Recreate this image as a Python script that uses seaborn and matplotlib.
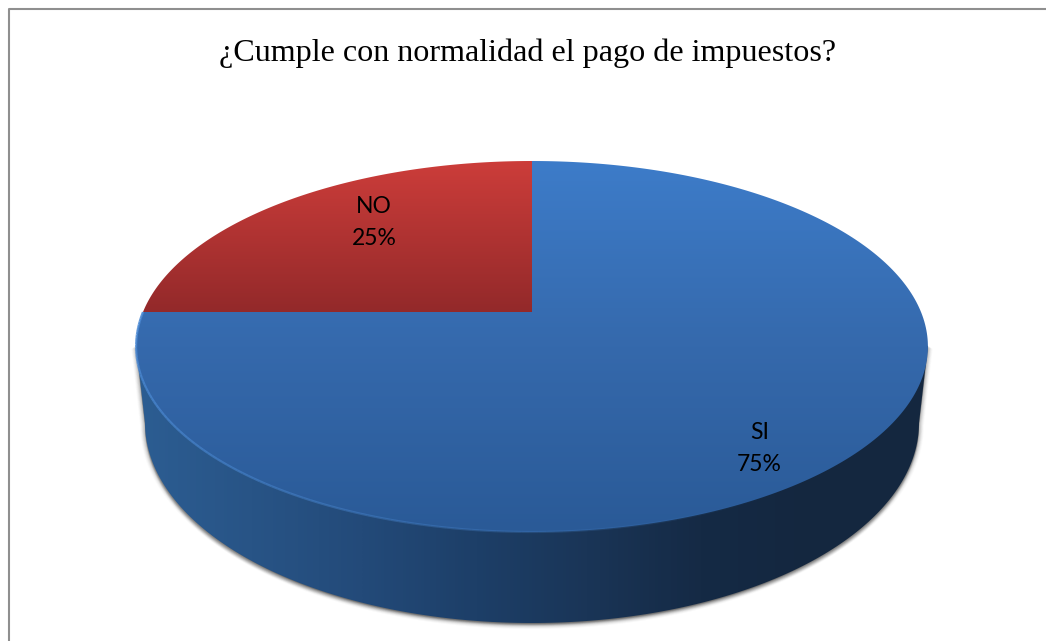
import numpy as np
import seaborn as sns
import matplotlib
matplotlib.use("Agg")
import matplotlib.pyplot as plt
from matplotlib.patches import Polygon

categories = ["SI", "NO"]
values = [75, 25]

title = "¿Cumple con normalidad el pago de impuestos?"

sns.set_theme(style="white")
W, H = 1046, 641

# top of the disc is a tilted circle, centre of the pie sits above the ellipse centre
cx, cy, rx, ry_up, ry_down = 532, 312, 389, 151, 220
k = (ry_down - ry_up) / (ry_down + ry_up)
b = ry_up * (1 + k)


def project(theta):
    t = np.radians(theta)
    u, v = np.cos(t), np.sin(t)
    return cx + rx * u / (1 + k * v), cy - b * v / (1 + k * v)


fig = plt.figure(figsize=(W / 100, H / 100), dpi=100, facecolor="white")
ax = fig.add_axes([0, 0, 1, 1])

wedges = ax.pie(values, labels=None, startangle=90, counterclock=False)[0]
angles = [(w.theta1, w.theta2) for w in wedges]
for w in wedges:
    w.remove()

ax.set_aspect("auto")
ax.set_xlim(0, W)
ax.set_ylim(H, 0)
ax.axis("off")


def grad_fill(xy, stops, horizontal=False, zorder=2):
    cmap = sns.blend_palette(stops, n_colors=256, as_cmap=True)
    xs, ys = xy[:, 0], xy[:, 1]
    g = np.linspace(0, 1, 256)
    g = g[None, :] if horizontal else g[:, None]
    patch = Polygon(xy, closed=True, transform=ax.transData, fc="none", ec="none")
    ax.add_patch(patch)
    im = ax.imshow(g, cmap=cmap, vmin=0, vmax=1, aspect="auto", zorder=zorder,
                   extent=(xs.min(), xs.max(), ys.max(), ys.min()), interpolation="bilinear")
    im.set_clip_path(patch)
    return im


# outline of the whole top and of the bottom edge
tt = np.linspace(0, 360, 721)
top_x, top_y = project(tt)
i_left, i_right = np.argmin(top_x), np.argmax(top_x)
lx, ly, rx_top, ry_top = top_x[i_left], top_y[i_left], top_x[i_right], top_y[i_right]

bot_cx, bot_cy, bot_rx, bot_ry = 532, 423, 387, 200
s = np.radians(np.linspace(180, 360, 300))
bot_x = bot_cx + bot_rx * np.cos(s)
bot_y = bot_cy - bot_ry * np.sin(s)

wall = np.vstack([[[lx, ly]], np.column_stack([bot_x, bot_y]), [[rx_top, ry_top]]])

# soft shadow under the wall
for off, a in zip([6, 5, 4, 3, 2, 1], [0.04, 0.07, 0.10, 0.13, 0.16, 0.20]):
    ax.add_patch(Polygon(wall + [0, off], closed=True, fc="#555555", ec="none", alpha=a, zorder=1))
    ax.add_patch(Polygon(wall + [off * 0.8, off * 0.5], closed=True, fc="#555555", ec="none", alpha=a * 0.7, zorder=1))
    ax.add_patch(Polygon(wall + [-off * 0.8, off * 0.5], closed=True, fc="#555555", ec="none", alpha=a * 0.7, zorder=1))

grad_fill(wall, ["#2c5d92", "#285486", "#234a79", "#1d3f68", "#1a3557", "#152a45", "#14273f", "#14273f"],
          horizontal=True, zorder=2)

# the two slices, values decide the angles
slice_stops = {"SI": ["#3d7cc9", "#3569ac", "#2a5a97"], "NO": ["#cc3d3a", "#93292a"]}
for name, (a1, a2) in zip(categories, angles):
    th = np.linspace(a1, a2, 300)
    x, y = project(th)
    xy = np.vstack([[[cx, cy]], np.column_stack([x, y])])
    grad_fill(xy, slice_stops[name], zorder=3)

# light rim on the front edge, fading out to the right
th = np.linspace(180, 300, 120)
rim_x, rim_y = project(th)
for j in range(len(th) - 1):
    ax.plot(rim_x[j:j + 2], rim_y[j:j + 2], color="#4c8ad4", lw=1.6,
            alpha=0.9 * (1 - j / len(th)), zorder=4, solid_capstyle="butt")

# chart border, only top and left are in the picture
ax.plot([8.5, 8.5, W + 2], [H + 2, 8.5, 8.5], color="#8f8f8f", lw=1.5, zorder=5)

ax.text(528, 61.5, title, family="Liberation Serif", fontsize=23.1, color="black",
        ha="center", va="baseline", zorder=6)

label_pos = {"SI": (759.5, 448.5), "NO": (374, 222.5)}
for name, v in zip(categories, values):
    ax.text(label_pos[name][0], label_pos[name][1], f"{name}\n{v}%", family="Lato", fontsize=16.5,
            color="black", ha="center", va="center", linespacing=1.65, zorder=6)

fig.savefig("out.png", dpi=100, facecolor="white")
